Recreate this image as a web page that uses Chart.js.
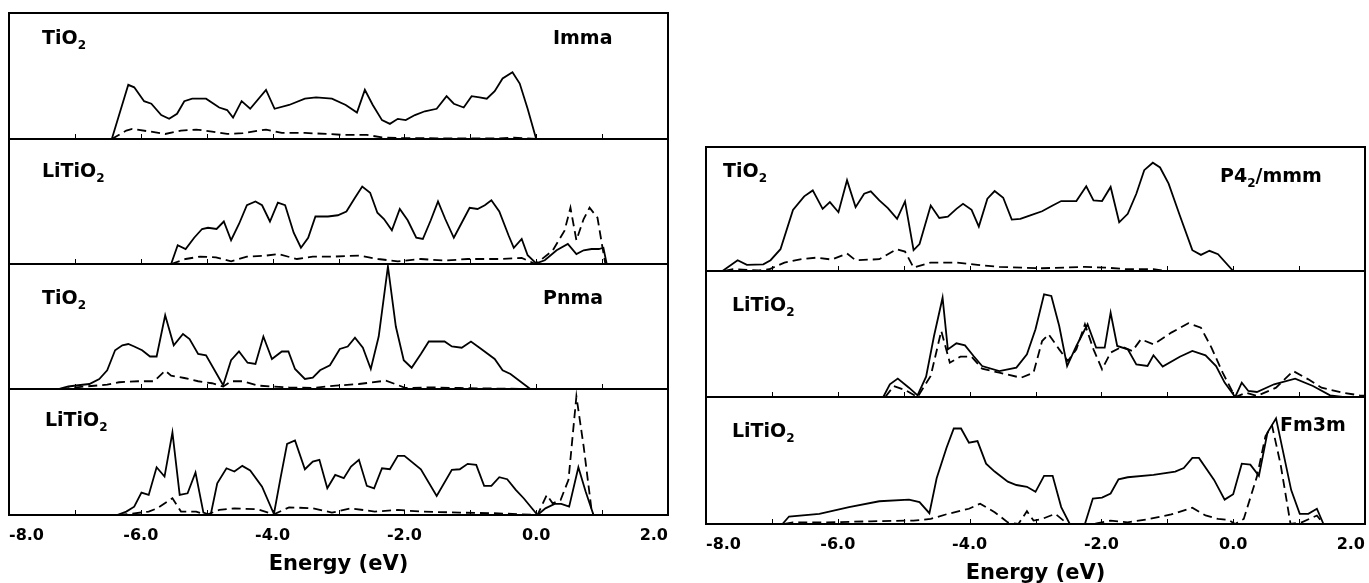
<!DOCTYPE html>
<html><head><meta charset="utf-8">
<script src="https://cdn.jsdelivr.net/npm/chart.js@4.4.0/dist/chart.umd.min.js"></script>
<style>
html,body{margin:0;padding:0;background:#fff;}
body{width:1369px;height:583px;position:relative;overflow:hidden;font-family:"DejaVu Sans",sans-serif;}
.box{position:absolute;}
.lbl{position:absolute;font-weight:bold;font-size:19px;line-height:19px;color:#000;white-space:nowrap;}
.lbl sub{font-size:12px;vertical-align:-5px;line-height:0;}
</style></head><body>
<script>
// ---------- DATA (energy in eV, DOS in % of panel height) ----------
const tickLabelsX = [-8, -6, -4, -2, 0, 2];

// Left 1: TiO2 Imma
const l1SolidE = [-6.44,-6.19,-6.10,-5.95,-5.84,-5.69,-5.57,-5.45,-5.34,-5.22,-5.01,-4.81,-4.69,-4.60,-4.47,-4.34,-4.10,-3.97,-3.75,-3.51,-3.34,-3.10,-2.89,-2.72,-2.60,-2.48,-2.34,-2.22,-2.10,-1.98,-1.84,-1.69,-1.51,-1.36,-1.25,-1.10,-0.98,-0.86,-0.75,-0.63,-0.51,-0.36,-0.25,-0.13,0.00];
const l1SolidY = [0,43,41,30,28,19,16,20,30,32,32,25,23,17,30,24,39,24,27,32,33,32,27,21,39,27,15,12,16,15,19,22,24,34,28,25,34,33,32,38,48,53,44,24,0];
const l1DashE = [-6.44,-6.22,-6.13,-5.86,-5.63,-5.39,-5.16,-4.92,-4.69,-4.45,-4.10,-3.86,-3.51,-3.16,-2.92,-2.57,-2.34,-2.04,-1.45,-0.57,-0.34,0.00];
const l1DashY = [0,6.7,8,5.9,4,6.7,7.5,5.9,4,4.6,7.5,4.8,4.8,4,3.2,3.2,1.3,0.8,0.5,0.5,1.1,0];

// Left 2: LiTiO2
const l2SolidE = [-5.54,-5.44,-5.32,-5.19,-5.07,-4.98,-4.85,-4.74,-4.63,-4.51,-4.39,-4.26,-4.16,-4.04,-3.92,-3.81,-3.68,-3.57,-3.46,-3.35,-3.16,-3.01,-2.88,-2.75,-2.64,-2.52,-2.41,-2.31,-2.19,-2.07,-1.95,-1.82,-1.72,-1.60,-1.49,-1.38,-1.25,-1.13,-1.01,-0.89,-0.78,-0.68,-0.56,-0.42,-0.34,-0.22,-0.13,0.00,0.13,0.31,0.48,0.61,0.72,0.84,0.95,1.02,1.07];
const l2SolidY = [0,15,12,21,28,29,28,34,19,32,47,50,47,34,49,47,25,13,21,38,38,39,42,53,62,57,41,36,27,44,35,21,20,35,50,36,21,33,45,44,47,51,42,23,13,20,7,0.5,3,11,16,8,11,12,12,13,0];
const l2DashE = [-5.54,-5.32,-5.10,-4.86,-4.63,-4.39,-4.10,-3.92,-3.63,-3.39,-3.10,-2.69,-2.40,-2.10,-1.75,-1.39,-1.04,-0.57,-0.22,-0.01,0.25,0.43,0.52,0.61,0.72,0.81,0.93,1.00,1.05];
const l2DashY = [0,4,5.9,5.3,2.1,5.9,6.7,8,4,5.9,5.9,6.7,4,2.1,4,2.7,4,4,4.8,0,10.7,26.7,45,19,36,45,37,15,0];

// Left 3: TiO2 Pnma
const l3SolidE = [-7.25,-7.10,-6.95,-6.78,-6.63,-6.51,-6.39,-6.28,-6.19,-6.10,-5.98,-5.86,-5.76,-5.63,-5.50,-5.36,-5.26,-5.13,-5.01,-4.75,-4.63,-4.51,-4.38,-4.26,-4.14,-4.01,-3.86,-3.76,-3.66,-3.51,-3.39,-3.28,-3.13,-2.98,-2.86,-2.75,-2.63,-2.51,-2.39,-2.25,-2.13,-2.01,-1.89,-1.75,-1.63,-1.39,-1.28,-1.13,-0.99,-0.86,-0.63,-0.51,-0.39,-0.09];
const l3SolidY = [0,2,3,4,8,15,31,35,36,34,31,26,26,59,35,44,40,28,27,3,23,30,21,20,42,24,30,30,16,8,9,15,19,32,34,41,33,16,42,98,50,23,17,28,38,38,34,33,38,33,24,15,12,0];
const l3DashE = [-7.22,-6.86,-6.51,-6.33,-6.04,-5.80,-5.63,-5.54,-5.34,-5.13,-4.92,-4.75,-4.63,-4.45,-4.22,-3.98,-3.75,-3.39,-3.04,-2.69,-2.28,-1.98,-1.63,-1.16,-0.57,-0.09];
const l3DashY = [0,1.9,3.5,5.4,6.2,6.2,14.7,10.7,8.8,6.2,4.6,1.9,6.2,6.2,2.7,1.9,1.3,0.8,2.7,4,6.7,0.8,1.3,0.8,0.3,0];

// Left 4: LiTiO2
const l4SolidE = [-6.36,-6.22,-6.10,-5.99,-5.88,-5.76,-5.64,-5.52,-5.41,-5.29,-5.17,-5.05,-4.94,-4.84,-4.70,-4.58,-4.46,-4.34,-4.16,-3.98,-3.88,-3.78,-3.66,-3.51,-3.39,-3.29,-3.17,-3.05,-2.92,-2.81,-2.69,-2.57,-2.46,-2.34,-2.22,-2.10,-2.00,-1.75,-1.51,-1.28,-1.16,-1.04,-0.91,-0.79,-0.68,-0.56,-0.44,-0.31,-0.19,0.02,0.14,0.28,0.38,0.50,0.64,0.75,0.87];
const l4SolidY = [0,2.7,6.6,17.8,15.9,37.9,30.5,65.5,15.9,17.2,33.7,1.9,0,25.2,37.1,34.5,39,35.3,22.5,0.8,29.2,56.5,59.2,36.3,42.4,43.8,21.2,31.8,29.2,38.5,43.8,23.1,21.2,37.1,36.3,46.9,46.9,36.3,15.1,35.8,36.3,40.6,39.8,23.1,23.1,30,28.4,19.9,13.3,0,5.3,8.8,8.8,6.6,37.9,18.6,0];
const l4DashE = [-6.34,-6.10,-5.88,-5.75,-5.52,-5.39,-5.16,-5.01,-4.81,-4.58,-4.22,-3.98,-3.75,-3.39,-3.10,-2.81,-2.45,-2.10,-1.75,-1.16,-0.57,0.02,0.16,0.25,0.37,0.49,0.61,0.72,0.84,0.87];
const l4DashY = [0,1.3,2.7,5.3,13.3,2.7,2.7,0,4,5.3,4.5,0.5,6.1,5.3,1.9,5.3,2.7,4,2.7,1.9,1.3,0,15.9,9.3,11.9,27.9,94.2,54.4,4,0];

// Right 1: TiO2 P4_2/mmm
const r1SolidE = [-7.75,-7.52,-7.38,-7.13,-7.02,-6.87,-6.68,-6.51,-6.38,-6.23,-6.12,-5.99,-5.86,-5.73,-5.60,-5.50,-5.37,-5.24,-5.10,-4.98,-4.85,-4.76,-4.59,-4.46,-4.33,-4.20,-4.10,-3.97,-3.86,-3.73,-3.62,-3.49,-3.36,-3.23,-3.09,-2.90,-2.74,-2.61,-2.38,-2.23,-2.12,-1.99,-1.86,-1.73,-1.60,-1.47,-1.35,-1.22,-1.11,-0.98,-0.81,-0.62,-0.49,-0.36,-0.23,0.00];
const r1SolidY = [0,8.7,4.9,5.4,8.7,17.6,49.3,60.2,65,50.1,55.6,47.4,73.2,51.5,62.3,64.2,56.9,50.7,42,56.1,16.8,21.7,52.8,42.8,43.9,50.1,54.2,49.3,35.8,58.3,64.5,59.1,41.5,42,44.7,48.2,52.8,56.4,56.4,68.3,56.9,56.4,67.8,39.3,46.1,62.3,81.3,87.3,83.5,70.5,44.7,16.8,13,16.3,13.6,0];
const r1DashE = [-7.72,-7.59,-7.20,-7.04,-6.81,-6.55,-6.32,-6.09,-5.86,-5.73,-5.37,-5.11,-4.98,-4.85,-4.59,-4.20,-3.88,-3.55,-2.90,-2.25,-1.92,-1.60,-1.21,-1.01];
const r1DashY = [0,1.4,0.5,1.4,6.8,9.5,10.8,9.2,14.1,8.7,9.5,17.6,15.7,2.7,6.8,6.8,4.9,3.3,2.2,3.3,2.7,1.4,1.4,0];

// Right 2: LiTiO2
const r2SolidE = [-5.31,-5.21,-5.09,-4.92,-4.79,-4.66,-4.54,-4.41,-4.33,-4.20,-4.07,-3.94,-3.81,-3.55,-3.29,-3.13,-3.00,-2.87,-2.76,-2.64,-2.52,-2.38,-2.21,-2.08,-1.95,-1.86,-1.76,-1.60,-1.47,-1.30,-1.21,-1.07,-0.81,-0.62,-0.42,-0.26,-0.13,0.03,0.13,0.23,0.36,0.62,0.94,1.21,1.47,1.66];
const r2SolidY = [0,10.1,14.6,7.4,1.3,16.1,48.4,78.8,37.8,42.6,41,32.5,24.6,20.6,23.3,33.9,53.7,81.5,80.2,56.3,24.6,40.5,57.7,39.2,39.2,66.9,40.5,37.8,25.9,24.6,33.1,24.1,32,36.5,33.1,24.6,11.4,0,11.4,4.8,4,10.1,14.6,8.7,1.3,0];
const r2DashE = [-5.28,-5.15,-4.98,-4.79,-4.59,-4.43,-4.30,-4.14,-3.97,-3.81,-3.55,-3.22,-3.03,-2.90,-2.80,-2.64,-2.51,-2.38,-2.25,-2.12,-1.99,-1.86,-1.69,-1.53,-1.40,-1.21,-0.94,-0.68,-0.49,-0.33,-0.16,0.03,0.20,0.36,0.65,0.91,1.14,1.34,1.66,1.92,2.00];
const r2DashY = [0,8.7,5.6,0,16.7,52.4,27.2,32,32,22.5,19.3,15.3,19.3,44.4,49.7,37.8,28.6,37.8,57.7,37.8,22,35.2,39.9,36.5,45.8,41.8,51.1,58.5,55,39.2,19.3,0,3.4,0.8,7.4,20.6,14,7.4,3.4,1.3,1];

// Right 3: LiTiO2 Fm3m
const r3SolidE = [-6.84,-6.74,-6.28,-5.83,-5.37,-4.92,-4.76,-4.61,-4.50,-4.35,-4.24,-4.13,-4.01,-3.88,-3.75,-3.62,-3.42,-3.29,-3.13,-3.00,-2.87,-2.74,-2.61,-2.48,-2.25,-2.13,-1.99,-1.86,-1.74,-1.60,-1.21,-0.88,-0.75,-0.62,-0.52,-0.29,-0.13,0.00,0.13,0.26,0.39,0.52,0.65,0.88,1.01,1.14,1.27,1.37];
const r3SolidY = [0,5.9,8,13.3,17.9,19.2,17.3,8.5,36,60,75.2,75.2,64,65.3,47.5,41.3,33.3,30.7,29.3,25.3,37.9,37.9,13.3,0,0,20,20.8,24,35.2,36.8,38.7,41.3,44,52,52,34.7,19.2,23.5,47.5,46.7,37.9,72,83.2,26.7,8,8,12,0];
const r3DashE = [-6.81,-6.68,-6.16,-5.50,-4.85,-4.59,-4.33,-4.01,-3.84,-3.62,-3.42,-3.26,-3.13,-3.03,-2.90,-2.70,-2.51,-2.12,-1.86,-1.60,-1.27,-0.94,-0.62,-0.42,-0.23,-0.07,0.03,0.16,0.36,0.49,0.59,0.72,0.87,1.04,1.27,1.37];
const r3DashY = [0,1.3,1.3,2.1,2.7,4,8,12,16,9.3,1.3,0,10.1,2.7,4,8,0,0,2.7,1.3,4,7.5,12.8,6.7,4,3.2,0,4,37.3,69.3,77.3,46.7,0,1.3,6.7,0];

// ---------- LAYOUT ----------
const panels = [
  {left:9,   top:13,  width:659, height:126, solid:[l1SolidE,l1SolidY], dash:[l1DashE,l1DashY], axis:false,
   labels:[{x:42,y:28,html:'TiO<sub>2</sub>'},{x:553,y:28,html:'Imma'}]},
  {left:9,   top:139, width:659, height:125, solid:[l2SolidE,l2SolidY], dash:[l2DashE,l2DashY], axis:false,
   labels:[{x:42,y:161,html:'LiTiO<sub>2</sub>'}]},
  {left:9,   top:264, width:659, height:125, solid:[l3SolidE,l3SolidY], dash:[l3DashE,l3DashY], axis:false,
   labels:[{x:42,y:288,html:'TiO<sub>2</sub>'},{x:543,y:288,html:'Pnma'}]},
  {left:9,   top:389, width:659, height:126, solid:[l4SolidE,l4SolidY], dash:[l4DashE,l4DashY], axis:true,
   labels:[{x:45,y:410,html:'LiTiO<sub>2</sub>'}]},
  {left:706, top:147, width:659, height:124, solid:[r1SolidE,r1SolidY], dash:[r1DashE,r1DashY], axis:false,
   labels:[{x:723,y:161,html:'TiO<sub>2</sub>'},{x:1220,y:166,html:'P4<sub>2</sub>/mmm'}]},
  {left:706, top:271, width:659, height:126, solid:[r2SolidE,r2SolidY], dash:[r2DashE,r2DashY], axis:false,
   labels:[{x:732,y:295,html:'LiTiO<sub>2</sub>'}]},
  {left:706, top:397, width:659, height:127, solid:[r3SolidE,r3SolidY], dash:[r3DashE,r3DashY], axis:true,
   labels:[{x:732,y:421,html:'LiTiO<sub>2</sub>'},{x:1280,y:415,html:'Fm3m'}]}
];

function pts(E, Y){ return E.map((e,i)=>({x:e, y:Y[i]})); }

const framePlugin = {
  id:'frame',
  afterDatasetsDraw(chart){
    const {ctx, chartArea:a} = chart;
    const xs = chart.scales.x;
    ctx.save();
    ctx.strokeStyle = '#000';
    ctx.lineWidth = 1;
    for (let v = -7; v <= 1; v++) {
      const px = Math.round(xs.getPixelForValue(v)) + 0.5;
      ctx.beginPath(); ctx.moveTo(px, a.bottom); ctx.lineTo(px, a.bottom - 5); ctx.stroke();
    }
    ctx.lineWidth = 2;
    ctx.strokeRect(a.left, a.top, a.right - a.left, a.bottom - a.top);
    ctx.restore();
  }
};

const M = 4;
panels.forEach(p => {
  const div = document.createElement('div');
  div.className = 'box';
  div.style.left = (p.left - M) + 'px';
  div.style.top = (p.top - M) + 'px';
  div.style.width = (p.width + 2*M) + 'px';
  const baseH = p.height + 2*M + (p.axis ? 52 : 0);
  div.style.height = baseH + 'px';
  const cv = document.createElement('canvas');
  div.appendChild(cv);
  document.body.appendChild(div);
  const chart = new Chart(cv, {
    type: 'line',
    data: { datasets: [
      {data: pts(p.solid[0], p.solid[1]), borderColor:'#000', borderWidth:1.8, pointRadius:0, tension:0, fill:false},
      {data: pts(p.dash[0], p.dash[1]), borderColor:'#000', borderWidth:1.8, borderDash:[9,5], pointRadius:0, tension:0, fill:false}
    ]},
    options: {
      responsive: true, maintainAspectRatio: false, animation: false,
      layout: { padding: { left: M, right: M, top: M, bottom: p.axis ? 0 : M } },
      plugins: { legend: {display:false}, tooltip: {enabled:false} },
      scales: {
        x: {
          type: 'linear', min: -8, max: 2, display: p.axis,
          grid: { display: false, drawTicks: false },
          border: { display: false },
          afterBuildTicks: s => { s.ticks = tickLabelsX.map(v => ({value: v})); },
          afterFit: s => { s.paddingLeft = 0; s.paddingRight = 0; },
          ticks: { align: 'inner', color: '#000', padding: 11, maxRotation: 0, autoSkip: false,
                   font: { family: 'DejaVu Sans', weight: 'bold', size: 16 },
                   callback: v => Number(v).toFixed(1) },
          title: { display: true, text: 'Energy (eV)', color: '#000', padding: {top: -4, bottom: 0},
                   font: { family: 'DejaVu Sans', weight: 'bold', size: 21 } }
        },
        y: { min: 0, max: 100, display: false }
      }
    },
    plugins: [framePlugin]
  });
  if (p.axis) {
    const ca = chart.chartArea;
    const extra = p.height - (ca.bottom - ca.top);
    div.style.height = (baseH + extra) + 'px';
    chart.resize();
  }
  p.labels.forEach(l => {
    const d = document.createElement('div');
    d.className = 'lbl';
    d.style.left = l.x + 'px';
    d.style.top = l.y + 'px';
    d.innerHTML = l.html;
    document.body.appendChild(d);
  });
});
</script>
</body></html>
